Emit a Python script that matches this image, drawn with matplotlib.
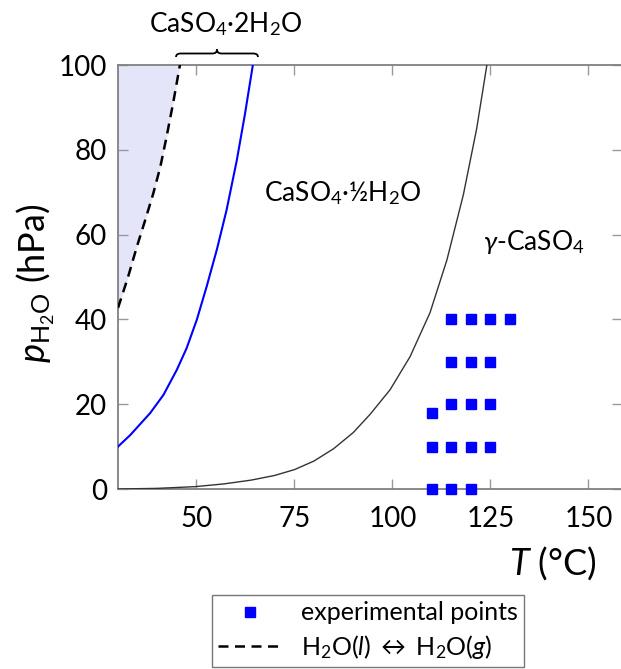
import matplotlib
matplotlib.use("Agg")
import matplotlib.pyplot as plt
from matplotlib.path import Path
from matplotlib.patches import PathPatch
from matplotlib.lines import Line2D
import matplotlib.transforms as mtransforms

plt.rcParams['font.family'] = ['Lato', 'DejaVu Sans']
plt.rcParams['mathtext.fontset'] = 'custom'
plt.rcParams['mathtext.rm'] = 'Lato'
plt.rcParams['mathtext.it'] = 'Lato:italic'
plt.rcParams['mathtext.bf'] = 'Lato:bold'

# --- data ---
# liquid water <-> vapour (dashed)
water_T = [30, 32.5, 34.8, 37.0, 39.0, 40.8, 42.4, 44.1, 45.8]
water_p = [42.7, 49.8, 57.1, 63.6, 69.7, 76.0, 83.1, 91.2, 100]
# dihydrate / hemihydrate boundary (blue)
dihyd_T = [30, 33.1, 38.2, 41.6, 45.0, 47.5, 50.1, 52.6, 55.2, 57.7, 60.3, 62.4, 64.4]
dihyd_p = [10.0, 12.7, 17.9, 22.2, 28.1, 33.2, 39.9, 47.7, 56.4, 65.8, 77.5, 88.5, 100]
# hemihydrate / gamma-anhydrite boundary (black)
hemi_T = [30, 40, 49.6, 57, 64, 70, 75.1, 80, 85, 90, 94.3, 99.4, 104.5, 109.6,
          113.9, 118.1, 121.5, 124.1]
hemi_p = [0.0, 0.15, 0.55, 1.2, 2.1, 3.2, 4.6, 6.6, 9.5, 13.3, 17.6, 23.4, 31.2, 41.6,
          54.0, 69.4, 85.0, 100]
# experimental points
exp_T = [110, 115, 120,
         110, 115, 120, 125,
         110,
         115, 120, 125,
         115, 120, 125,
         115, 120, 125, 130]
exp_p = [0, 0, 0,
         10, 10, 10, 10,
         18,
         20, 20, 20,
         30, 30, 30,
         40, 40, 40, 40]
xticks = [50, 75, 100, 125, 150]
yticks = [0, 20, 40, 60, 80, 100]

W, H = 621, 669
fig = plt.figure(figsize=(W / 100, H / 100), dpi=100)
left, right, top, bottom = 118, 622, 65, 489
ax = fig.add_axes([left / W, 1 - bottom / H, (right - left) / W, (bottom - top) / H])

ax.fill_between(water_T, water_p, 100, color='#e5e5fa', lw=0, zorder=1)
ax.plot(water_T, water_p, color='black', lw=1.8, dashes=(4, 2.6), zorder=3)
ax.plot(dihyd_T, dihyd_p, color='#0000ff', lw=1.5, zorder=3, solid_joinstyle='round')
ax.plot(hemi_T, hemi_p, color='#333333', lw=1.0, zorder=3, solid_joinstyle='round')
ax.plot(exp_T, exp_p, ls='none', marker='s', ms=7.3, color='#0000ff',
        mec='#0000ff', clip_on=False, zorder=5)

ax.set_xlim(30, 30 + (right - left) / 3.92)
ax.set_ylim(0, 100)
ax.set_xticks(xticks)
ax.set_yticks(yticks)
ax.tick_params(direction='in', length=7, width=1, color='#999999',
               labelsize=20, top=True, right=True, pad=12, labelcolor='black')
ax.tick_params(axis='y', pad=8)
for s in ax.spines.values():
    s.set_color('#808080')
    s.set_linewidth(1.3)

ax.text(87.4, 69.8, 'CaSO$_4$·½H$_2$O', fontsize=19, ha='center', va='center')
ax.text(136.1, 58.3, r'$\it{\gamma}$-CaSO$_4$', fontsize=19, ha='center', va='center')

# x and y labels
fig.text(597 / W, 1 - 563 / H, r'$T$ (°C)', fontsize=26, ha='right', va='center')
fig.text(36 / W, 1 - 283 / H, r'$p_{\mathrm{H_2O}}$ (hPa)', fontsize=26, rotation=90,
         ha='center', va='center')

# brace above the plot for the dihydrate region
tr = mtransforms.blended_transform_factory(ax.transData, fig.transFigure)
x0, x1 = 44.8, 65.7
xm = (x0 + x1) / 2
yb = 1 - 57 / H
yh = 1 - 53.5 / H
yt = 1 - 49.5 / H
dx = 1.2
verts = [(x0, yb), (x0, yh), (x0 + dx, yh),
         (xm - dx, yh), (xm, yh), (xm, yt),
         (xm, yh), (xm + dx, yh),
         (x1 - dx, yh), (x1, yh), (x1, yb)]
codes = [Path.MOVETO, Path.CURVE3, Path.CURVE3,
         Path.LINETO, Path.CURVE3, Path.CURVE3,
         Path.CURVE3, Path.CURVE3,
         Path.LINETO, Path.CURVE3, Path.CURVE3]
brace = PathPatch(Path(verts, codes), transform=tr, fill=False, lw=1.3,
                  edgecolor='black', clip_on=False)
fig.add_artist(brace)
fig.text(226 / W, 1 - 24 / H, 'CaSO$_4$·2H$_2$O', fontsize=19, ha='center', va='center')

handles = [Line2D([], [], ls='none', marker='s', ms=7.3, color='#0000ff'),
           Line2D([], [], color='black', lw=1.8, dashes=(4, 2.6))]
labels = ['experimental points', r'H$_2$O($\it{l}$) $\leftrightarrow$ H$_2$O($\it{g}$)']
leg = fig.legend(handles, labels, loc='upper left',
                 bbox_to_anchor=(212 / W, 1 - 595 / H), fontsize=18,
                 frameon=True, fancybox=False, edgecolor='#555555',
                 handlelength=2.5, handletextpad=0.8, borderaxespad=0,
                 borderpad=0.25, labelspacing=0.35)
leg.get_frame().set_linewidth(1.0)

fig.savefig('out.png', dpi=100)
